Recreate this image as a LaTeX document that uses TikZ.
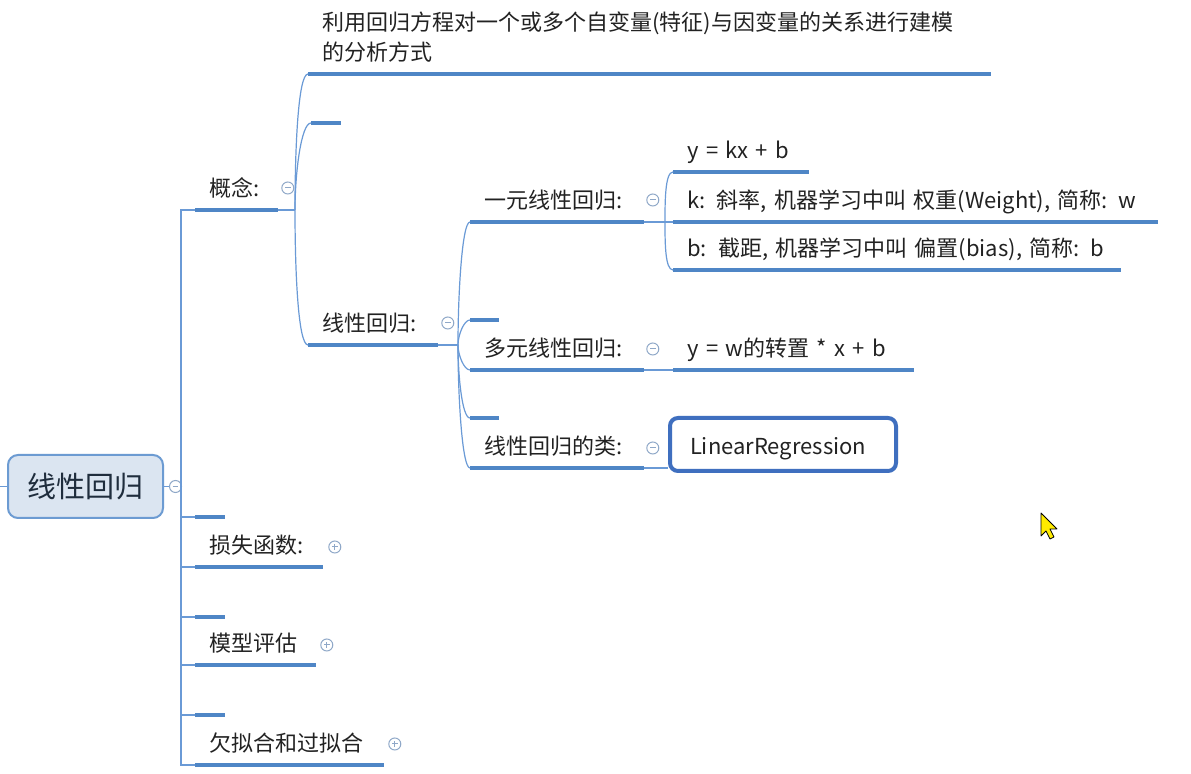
\documentclass[tikz,border=0pt]{standalone}
\usepackage{fontspec}
\setmainfont{Noto Sans CJK SC}
\usepackage{tikz}
\usetikzlibrary{positioning,calc}

\definecolor{lineblue}{HTML}{4F86C6}
\definecolor{linkblue}{HTML}{6A9AD6}
\definecolor{foldgray}{HTML}{8FA8C8}
\definecolor{rootfill}{HTML}{DBE5F1}
\definecolor{rootline}{HTML}{6C9BD2}
\definecolor{boxblue}{HTML}{3F6FBF}
\definecolor{ink}{HTML}{222222}
\definecolor{rootink}{HTML}{1F2D3D}
\definecolor{cursoryellow}{HTML}{FFEB00}

\begin{document}
\begin{tikzpicture}[
  x=0.5pt, y=0.5pt,
  every node/.style={font=\fontsize{11}{15}\selectfont, text=ink},
  topic/.style={anchor=south west, inner xsep=7pt, inner ysep=4pt,
    text height=0.9em, text depth=0.25em, align=left, text width=#1},
  defn/.style={topic=#1, text height=, text depth=, inner ysep=5.5pt},
  blank/.style={anchor=south west, inner sep=0pt, minimum height=0pt, minimum width=#1},
  root/.style={draw=rootline, fill=rootfill, rounded corners=5pt, line width=1pt,
    minimum width=77.5pt, minimum height=31.5pt, text=rootink,
    font=\fontsize{14.5}{17}\selectfont},
  lrbox/.style={anchor=south west, draw=boxblue, fill=white, rounded corners=4pt,
    line width=2pt, minimum height=26.5pt, inner xsep=10pt, text width=93pt,
    text height=0.97em, text depth=0pt},
  uline/.style={draw=lineblue, line width=2pt},
  conn/.style={draw=linkblue, line width=0.6pt},
  fold/.style={circle, draw=foldgray, fill=white, line width=0.5pt, minimum size=6pt,
    inner sep=0pt, path picture={
      \draw[foldgray, line width=0.5pt] ([xshift=-1.4pt]path picture bounding box.center)
        -- ([xshift=1.4pt]path picture bounding box.center);}},
  unfold/.style={fold, path picture={
      \draw[foldgray, line width=0.5pt] ([xshift=-1.4pt]path picture bounding box.center)
        -- ([xshift=1.4pt]path picture bounding box.center);
      \draw[foldgray, line width=0.5pt] ([yshift=-1.4pt]path picture bounding box.center)
        -- ([yshift=1.4pt]path picture bounding box.center);}}
]
\fill[white] (0,0) rectangle (1191,-774);
\useasboundingbox (0,0) rectangle (1191,-774);

% root
\node[root] (root) at (85.5,-486.5) {线性回归};
\node[fold, right=2.5pt of root] (rootf) {};
\coordinate (entry) at (0,-486.5);
\coordinate (trunk) at (181,-486.5);

% first level
\node[topic=27pt] (gn) at (195,-210) {概念:};
\node[blank=14.5pt] (b1) at (195,-517) {};
\node[topic=49.5pt] (ls) at (195,-567) {损失函数:};
\node[blank=14.5pt] (b2) at (195,-617) {};
\node[topic=46pt] (mx) at (195,-665) {模型评估};
\node[blank=14.5pt] (b3) at (195,-715) {};
\node[topic=80pt] (qn) at (195,-765) {欠拟合和过拟合};

\node[fold] (gnf) at ($(gn.south east)+(10,22)$) {};
\node[unfold] (lsf) at ($(ls.south east)+(12,20)$) {};
\node[unfold] (mxf) at ($(mx.south east)+(11,20)$) {};
\node[unfold] (qnf) at ($(qn.south east)+(11,21)$) {};

% concept
\coordinate (k1) at (295,-210);
\node[defn=327pt] (dy) at (308,-74) {利用回归方程对一个或多个自变量(特征)与因变量的关系进行建模\\的分析方式};
\node[blank=14.5pt] (b4) at (311,-123) {};
\node[topic=50.5pt] (xh) at (308,-345) {线性回归:};
\node[fold] (xhf) at ($(xh.south east)+(10,22)$) {};

% kinds of regression
\coordinate (k2) at (458,-345);
\node[topic=72.5pt] (yy) at (470,-222) {一元线性回归:};
\node[blank=14pt] (b5) at (470,-320) {};
\node[topic=72.5pt] (dd) at (470,-370) {多元线性回归:};
\node[blank=14pt] (b6) at (470,-418) {};
\node[topic=72.5pt] (lc) at (470,-468) {线性回归的类:};

\node[fold] (yyf) at ($(yy.south east)+(9,22)$) {};
\node[fold] (ddf) at ($(dd.south east)+(9,21)$) {};
\node[fold] (lcf) at ($(lc.south east)+(9,20)$) {};

% leaves
\coordinate (k3) at (665,-222);
\node[topic=53.5pt] (l1) at (673,-172) {y = kx + b};
\node[topic=228pt] (l2) at (673,-222) {k: 斜率, 机器学习中叫 权重(Weight), 简称: w};
\node[topic=209.5pt] (l3) at (673,-270) {b: 截距, 机器学习中叫 偏置(bias), 简称: b};
\node[topic=106pt] (l4) at (673,-370) {y = w的转置 * x + b};
\node[lrbox] (lr) at (668,-473) {LinearRegression};

% underlines
\foreach \n in {gn,b1,ls,b2,mx,b3,qn,dy,b4,xh,yy,b5,dd,b6,lc,l1,l2,l3,l4}
  \draw[uline] (\n.south west) -- (\n.south east);

% connectors
\draw[conn] (entry) -- (root.west);
\draw[conn] (root.east) -- (rootf.west);
\draw[conn] (rootf.east) -- (trunk);
\foreach \n in {gn,b1,ls,b2,mx,b3,qn}
  \draw[conn] (trunk) |- (\n.south west);

\draw[conn] (gn.south east) -- (k1);
\draw[conn] (k1) to[out=90, in=180, out distance=30pt, in distance=5pt] (dy.south west);
\draw[conn] (k1) to[out=90, in=180, out distance=18pt, in distance=5pt] (b4.south west);
\draw[conn] (k1) to[out=-90, in=180, out distance=30pt, in distance=5pt] (xh.south west);

\draw[conn] (xh.south east) -- (k2);
\draw[conn] (k2) to[out=90, in=180, out distance=25pt, in distance=4pt] (yy.south west);
\draw[conn] (k2) to[out=90, in=180, out distance=5pt, in distance=3pt] (b5.south west);
\draw[conn] (k2) to[out=-90, in=180, out distance=5pt, in distance=3pt] (dd.south west);
\draw[conn] (k2) to[out=-90, in=180, out distance=15pt, in distance=4pt] (b6.south west);
\draw[conn] (k2) to[out=-90, in=180, out distance=25pt, in distance=4pt] (lc.south west);

\draw[conn] (yy.south east) -- (k3);
\draw[conn] (k3) to[out=90, in=180, out distance=10pt, in distance=4pt] (l1.south west);
\draw[conn] (k3) -- (l2.south west);
\draw[conn] (k3) to[out=-90, in=180, out distance=10pt, in distance=4pt] (l3.south west);
\draw[conn] (dd.south east) -- (l4.south west);
\draw[conn] (lc.south east) -- (lc.south east -| lr.west);

% mouse pointer
\filldraw[fill=cursoryellow, draw=black, line width=0.4pt, line join=round]
  (1041,-513) -- (1041,-536) -- (1046,-531) -- (1050,-539) -- (1054,-537)
  -- (1050,-529) -- (1057,-529) -- cycle;
\end{tikzpicture}
\end{document}
